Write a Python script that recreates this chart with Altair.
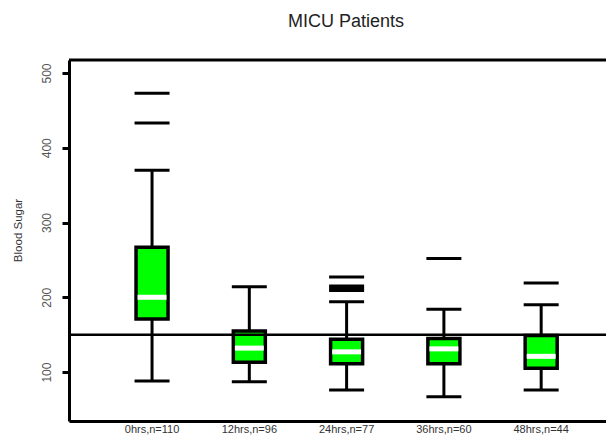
import altair as alt
import pandas as pd

# ---- data ----
categories = ["0hrs,n=110", "12hrs,n=96", "24hrs,n=77", "36hrs,n=60", "48hrs,n=44"]
whisker_low = [88, 87, 76, 67, 76]
q1 = [171, 113, 111, 111, 105]
median = [200, 132, 127, 131, 121]
q3 = [267, 155, 144, 145, 149]
whisker_high = [370, 214, 194, 184, 190]

outlier_cat = ["0hrs,n=110", "0hrs,n=110", "24hrs,n=77", "24hrs,n=77", "24hrs,n=77",
               "24hrs,n=77", "36hrs,n=60", "48hrs,n=44"]
outlier_val = [473, 433, 227, 215, 212, 209, 252, 219]

ref_value = [150]
y_ticks = [100, 200, 300, 400, 500]
title_text = "MICU Patients"
y_title = "Blood Sugar"

stats = pd.DataFrame({
    "cat": categories, "lo": whisker_low, "q1": q1, "med": median,
    "q3": q3, "hi": whisker_high,
})
outs = pd.DataFrame({"cat": outlier_cat, "val": outlier_val})
ref = pd.DataFrame({"v": ref_value})
ttl = pd.DataFrame({"t": [title_text]})

FONT = "Liberation Sans"

xscale = alt.Scale(domain=categories, paddingInner=0, paddingOuter=0.26, align=0.68)
yscale = alt.Scale(domain=[34.5, 517.4], nice=False, zero=False)

x_enc = alt.X("cat:N", scale=xscale, sort=categories, title=None,
              axis=alt.Axis(labelAngle=0, ticks=False, labelFontSize=11, labelFont=FONT,
                            labelColor="#333", labelPadding=2, domainColor="black",
                            domainWidth=3, grid=False))
y_axis = alt.Axis(values=y_ticks, labelAngle=270, labelAlign="center", labelBaseline="bottom",
                  labelFontSize=12, labelFont=FONT, labelColor="#555", labelPadding=9,
                  tickSize=7, tickWidth=3, tickColor="black", domainColor="black",
                  domainWidth=3, grid=False, title=y_title, titleFont=FONT,
                  titleFontSize=11.5, titleFontWeight="normal", titleColor="#333",
                  titleX=-51, titleY=170, titleAngle=270, titleAlign="center",
                  titleBaseline="middle")

base = alt.Chart(stats)

upper_w = base.mark_rule(color="black", strokeWidth=3).encode(
    x=x_enc, y=alt.Y("q3:Q", scale=yscale, axis=y_axis), y2="hi:Q")
lower_w = base.mark_rule(color="black", strokeWidth=3).encode(
    x=x_enc, y=alt.Y("lo:Q", scale=yscale), y2="q1:Q")
cap_hi = base.mark_tick(color="black", size=35, thickness=3, opacity=1).encode(
    x=x_enc, y=alt.Y("hi:Q", scale=yscale))
cap_lo = base.mark_tick(color="black", size=35, thickness=3, opacity=1).encode(
    x=x_enc, y=alt.Y("lo:Q", scale=yscale))
box = base.mark_bar(size=32, fill="#00ff00", stroke="black", strokeWidth=3.5).encode(
    x=x_enc, y=alt.Y("q1:Q", scale=yscale), y2="q3:Q")
med = base.mark_tick(color="white", size=29, thickness=5, opacity=1).encode(
    x=x_enc, y=alt.Y("med:Q", scale=yscale))
out = alt.Chart(outs).mark_tick(color="black", size=35, thickness=3, opacity=1).encode(
    x=x_enc, y=alt.Y("val:Q", scale=yscale))
refline = alt.Chart(ref).mark_rule(color="black", strokeWidth=2.5).encode(
    y=alt.Y("v:Q", scale=yscale))
topline = alt.Chart(ref).mark_rule(color="black", strokeWidth=3).encode(
    y=alt.value(0))
title_mark = alt.Chart(ttl).mark_text(font=FONT, fontSize=18, color="#222",
                                      align="center", baseline="alphabetic").encode(
    text="t:N", x=alt.value(277), y=alt.value(-33))

chart = alt.layer(upper_w, lower_w, cap_hi, cap_lo, box, med, out, refline, topline,
                  title_mark).properties(
    width=537, height=361,
    autosize=alt.AutoSizeParams(type="none"),
    padding={"left": 61, "top": 52, "right": 0, "bottom": 15},
).configure_view(stroke=None).configure(background="white")

chart.save("out.html", embed_options={"renderer": "svg", "actions": False})
